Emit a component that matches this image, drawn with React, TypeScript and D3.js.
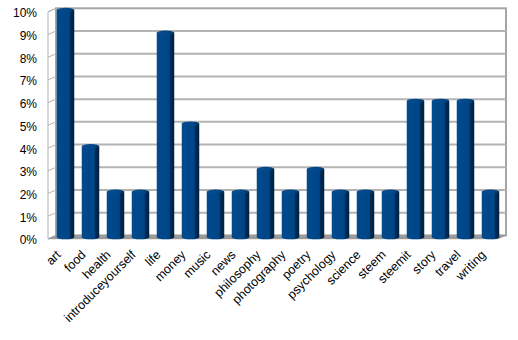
import React from "react";
import * as d3 from "d3";

const categories = [
  "art", "food", "health", "introduceyourself", "life", "money", "music", "news",
  "philosophy", "photography", "poetry", "psychology", "science", "steem",
  "steemit", "story", "travel", "writing",
];
const values = [10, 4, 2, 2, 9, 5, 2, 2, 3, 2, 3, 2, 2, 2, 6, 6, 6, 2];
const yTicks = [0, 1, 2, 3, 4, 5, 6, 7, 8, 9, 10];

const W = 518;
const H = 340;
const backLeft = 56;
const backRight = 506;
const backTop = 8.3;
const backBottom = 235.4;
const DX = -8;
const DY = 3.5;

export default function App() {
  const y = d3.scaleLinear().domain([0, 10]).range([backBottom, backTop]);
  const x = d3.scaleBand<string>().domain(categories).range([53, 503]).paddingInner(0.3).paddingOuter(0.15);
  const bw = x.bandwidth();
  const ry = 2.2;
  const midDY = DY / 2;
  const gridColor = "#b3b3b3";

  return (
    <svg width={W} height={H} style={{ position: "absolute", left: 0, top: 0, background: "#fff" }}
      fontFamily="'Liberation Sans', Arial, sans-serif">
      <defs>
        <linearGradient id="cyl" x1="0" x2="1" y1="0" y2="0">
          <stop offset="0" stopColor="#004a8e" />
          <stop offset="0.72" stopColor="#004586" />
          <stop offset="0.78" stopColor="#002c57" />
          <stop offset="1" stopColor="#001f3f" />
        </linearGradient>
        <linearGradient id="cap" x1="0" x2="1" y1="0" y2="0">
          <stop offset="0" stopColor="#0a4f92" />
          <stop offset="0.7" stopColor="#004586" />
          <stop offset="1" stopColor="#00335f" />
        </linearGradient>
      </defs>
      {/* left wall */}
      <polygon
        points={`${backLeft},${backTop} ${backLeft + DX},${backTop + DY} ${backLeft + DX},${backBottom + DY} ${backLeft},${backBottom}`}
        fill="#fff" stroke={gridColor} strokeWidth={1} />
      {/* back wall */}
      <rect x={backLeft} y={backTop} width={backRight - backLeft} height={backBottom - backTop}
        fill="#fff" stroke="#a6a6a6" strokeWidth={2} />
      {/* gridlines */}
      {yTicks.filter((t) => t > 0 && t < 10).map((t) => (
        <line key={"g" + t} x1={backLeft} x2={backRight} y1={y(t)} y2={y(t)} stroke={gridColor} strokeWidth={2} />
      ))}
      {yTicks.map((t) => (
        <line key={"s" + t} x1={backLeft} x2={backLeft + DX} y1={y(t)} y2={y(t) + DY} stroke={gridColor} strokeWidth={1} />
      ))}
      {/* floor */}
      <polygon
        points={`${backLeft},${backBottom} ${backRight},${backBottom} ${backRight + DX},${backBottom + DY} ${backLeft + DX},${backBottom + DY}`}
        fill="#9a9a9a" stroke="#9a9a9a" strokeWidth={0.5} />
      {/* bars */}
      {categories.map((c, i) => {
        const x0 = x(c) as number;
        const x1 = x0 + bw;
        const yt = y(values[i]) + midDY;
        const yb = backBottom + midDY;
        const rx = bw / 2;
        const d = `M${x0},${yt} L${x0},${yb} A${rx},${ry} 0 0 0 ${x1},${yb} L${x1},${yt} Z`;
        return (
          <g key={c}>
            <path d={d} fill="url(#cyl)" />
            <ellipse cx={x0 + rx} cy={yt} rx={rx} ry={ry} fill="url(#cap)" />
          </g>
        );
      })}
      {/* y tick labels */}
      {yTicks.map((t) => (
        <text key={"t" + t} x={37} y={y(t) + 5} textAnchor="end" dominantBaseline="central"
          fontSize={12} fill="#000">{t + "%"}</text>
      ))}
      {/* category labels */}
      {categories.map((c) => {
        const cx = (x(c) as number) + bw / 2;
        return (
          <text key={"l" + c} transform={`translate(${cx - 4},${255.5}) rotate(-45)`} textAnchor="end"
            fontSize={12.5} fill="#000">{c}</text>
        );
      })}
    </svg>
  );
}
